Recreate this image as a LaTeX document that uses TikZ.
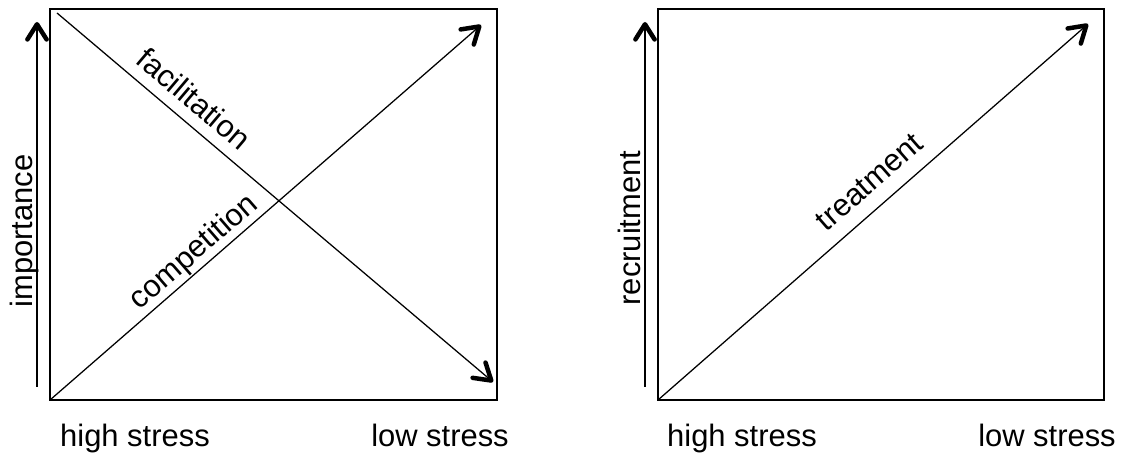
\documentclass[tikz,border=0pt]{standalone}
\usepackage{fontspec}
\setmainfont{Liberation Sans}
\usetikzlibrary{arrows.meta}
\tikzset{
  panel/.style={draw=black,line width=1.4pt},
  trend/.style={-{Straight Barb[length=4mm,width=5mm,line width=3.2pt,round]},line width=0.9pt,black},
  axisarrow/.style={-{Straight Barb[length=3.8mm,width=4.8mm,line width=3.2pt,round]},line width=0.9pt,black},
  axislabel/.style={font=\fontsize{22}{26}\selectfont,inner sep=0pt,anchor=base},
  curvelabel/.style={font=\fontsize{22}{26}\selectfont,inner sep=0pt,sloped}
}

\begin{document}
\begin{tikzpicture}
  \useasboundingbox (0,0) rectangle (28.1,11.375);
  % left panel
  \coordinate (lsw) at (1.25,1.375);
  \coordinate (lne) at (12.425,11.15);
  \coordinate (lfstart) at (1.425,11.05);
  \coordinate (lftip) at (12.325,1.825);
  \coordinate (lctip) at (12.025,10.75);
  \coordinate (lalow) at (0.925,1.7);
  \coordinate (lahigh) at (0.925,10.825);
  \draw[panel] (lsw) rectangle (lne);
  \draw[axisarrow] (lalow) -- (lahigh);
  \draw[trend] (lfstart) -- node[curvelabel,pos=0.28,above=8pt] (fac) {facilitation} (lftip);
  \draw[trend] (lsw) -- node[curvelabel,pos=0.36,above=1pt] (comp) {competition} (lctip);
  \node[axislabel,rotate=90] (imp) at (0.8,5.6) {importance};
  \node[axislabel] (lhigh) at (3.375,0.2) {high stress};
  \node[axislabel] (llow) at (11.0,0.2) {low stress};
  % right panel
  \coordinate (rsw) at (16.45,1.375);
  \coordinate (rne) at (27.6,11.15);
  \coordinate (rttip) at (27.2,10.775);
  \coordinate (ralow) at (16.125,1.7);
  \coordinate (rahigh) at (16.125,10.825);
  \draw[panel] (rsw) rectangle (rne);
  \draw[axisarrow] (ralow) -- (rahigh);
  \draw[trend] (rsw) -- node[curvelabel,pos=0.53,above=10pt] (treat) {treatment} (rttip);
  \node[axislabel,rotate=90] (recr) at (16.0,5.675) {recruitment};
  \node[axislabel] (rhigh) at (18.55,0.2) {high stress};
  \node[axislabel] (rlow) at (26.175,0.2) {low stress};
\end{tikzpicture}
\end{document}
